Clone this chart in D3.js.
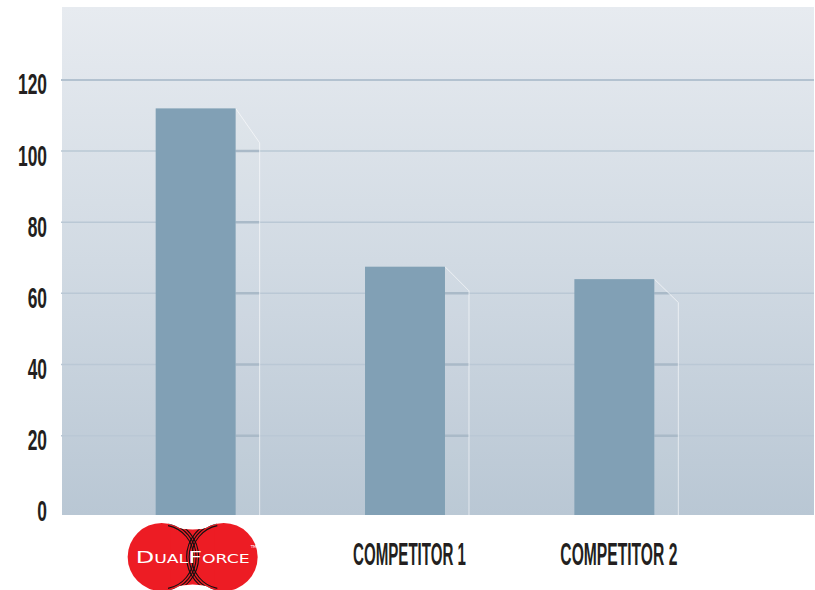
<!DOCTYPE html>
<html>
<head>
<meta charset="utf-8">
<script src="https://cdn.jsdelivr.net/npm/d3@7"></script>
<style>
  html, body { margin: 0; padding: 0; background: #ffffff; }
  svg { display: block; }
</style>
</head>
<body>
<svg id="chart" width="815" height="590"></svg>
<script>
// ---- data ----
const categories = ["DualForce", "COMPETITOR 1", "COMPETITOR 2"];
const values = [112, 67.5, 64];
const yTicks = [0, 20, 40, 60, 80, 100, 120];

// ---- layout ----
const plotLeft = 62, plotRight = 814, plotTop = 7, plotBottom = 515;
const svg = d3.select("#chart");

const y = d3.scaleLinear().domain([-2.3, 140.5]).range([plotBottom, plotTop]);
const x = d3.scaleBand().domain(categories).range([51, 759]).paddingInner(0.618).paddingOuter(0.5);

const defs = svg.append("defs");
const grad = defs.append("linearGradient").attr("id", "bg").attr("x1", 0).attr("y1", 0).attr("x2", 0).attr("y2", 1);
grad.append("stop").attr("offset", "0%").attr("stop-color", "#e7ebf0");
grad.append("stop").attr("offset", "50%").attr("stop-color", "#d1dae3");
grad.append("stop").attr("offset", "100%").attr("stop-color", "#b9c7d4");

// background
svg.append("rect")
  .attr("x", plotLeft).attr("y", plotTop)
  .attr("width", plotRight - plotLeft).attr("height", plotBottom - plotTop)
  .attr("fill", "url(#bg)");

// gridlines
const grid = svg.append("g");
grid.selectAll("line").data(yTicks.filter(d => d > 0)).join("line")
  .attr("x1", plotLeft - 1).attr("x2", plotRight)
  .attr("y1", d => y(d)).attr("y2", d => y(d))
  .attr("stroke", d => d === 120 ? "#b3c2d0" : "#bac8d5")
  .attr("stroke-width", d => d === 120 ? 2 : 1.5);

// shadow polygons beside bars
const sw = 24;
function shadowPts(d, i) {
  const xr = x(d) + x.bandwidth();
  const top = y(values[i]);
  const drop = 8 + (plotBottom - top) * 0.065;
  return [[xr, top], [xr + sw, top + drop], [xr + sw, plotBottom], [xr, plotBottom]];
}
categories.forEach((c, i) => {
  defs.append("clipPath").attr("id", "sh" + i)
    .append("polygon").attr("points", shadowPts(c, i).map(p => p.join(",")).join(" "));
});
const shadows = svg.append("g");
categories.forEach((c, i) => {
  const g = shadows.append("g");
  g.append("polygon")
    .attr("points", shadowPts(c, i).map(p => p.join(",")).join(" "))
    .attr("fill", "#ffffff").attr("fill-opacity", 0.04);
  g.append("g").attr("clip-path", "url(#sh" + i + ")")
    .selectAll("line").data(yTicks.filter(d => d > 0)).join("line")
    .attr("x1", plotLeft).attr("x2", plotRight)
    .attr("y1", d => y(d)).attr("y2", d => y(d))
    .attr("stroke", "#aabac8").attr("stroke-width", 2.5);
  const p = shadowPts(c, i);
  g.append("polyline")
    .attr("points", [p[0], p[1], p[2]].map(q => q.join(",")).join(" "))
    .attr("fill", "none").attr("stroke", "#ffffff").attr("stroke-opacity", 0.6).attr("stroke-width", 1);
});

// bars
svg.append("g").selectAll("rect").data(categories).join("rect")
  .attr("x", d => x(d))
  .attr("y", (d, i) => y(values[i]))
  .attr("width", x.bandwidth())
  .attr("height", (d, i) => plotBottom - y(values[i]))
  .attr("fill", "#81a0b5");

// y axis
const sx = 0.6;
const yAxis = svg.append("g").attr("transform", `translate(${plotLeft},0)`)
  .call(d3.axisLeft(y).tickValues(yTicks).tickSize(0).tickFormat(d3.format("d")));
yAxis.select(".domain").remove();
yAxis.selectAll("text")
  .attr("x", -15 / sx)
  .attr("dy", "0.48em")
  .attr("transform", `scale(${sx},1)`)
  .attr("fill", "#231f20")
  .style("font-family", "'Liberation Sans', sans-serif")
  .style("font-size", "29px")
  .style("font-weight", "bold");

// x axis labels (text categories)
const xAxis = svg.append("g").attr("transform", `translate(0,${plotBottom})`)
  .call(d3.axisBottom(x).tickSize(0).tickFormat(d => d === "DualForce" ? "" : d));
xAxis.select(".domain").remove();
xAxis.selectAll(".tick").each(function(d) {
  const t = d3.select(this).select("text");
  if (d === "DualForce") { t.remove(); return; }
  t.attr("y", 49.5).attr("dy", 0).attr("x", 4.5)
    .attr("fill", "#231f20")
    .attr("textLength", d === "COMPETITOR 1" ? 113 : 117)
    .attr("lengthAdjust", "spacingAndGlyphs")
    .style("font-family", "'Liberation Sans', sans-serif")
    .style("font-size", "30.5px")
    .style("font-weight", "bold");
});

// DualForce logo
const logoCx = x("DualForce") + x.bandwidth() / 2 - 3;
const logo = svg.append("g").attr("transform", `translate(${logoCx},557)`);
const red = "#ed1c24";
const shapeClip = defs.append("clipPath").attr("id", "logoclip");
shapeClip.append("circle").attr("cx", -31).attr("cy", 0).attr("r", 34);
shapeClip.append("circle").attr("cx", 31).attr("cy", 0).attr("r", 34);
shapeClip.append("path").attr("d", "M -22,-31 Q 0,-24 22,-31 L 22,31 Q 0,24 -22,31 Z");
logo.append("circle").attr("cx", -31).attr("cy", 0).attr("r", 34).attr("fill", red);
logo.append("circle").attr("cx", 31).attr("cy", 0).attr("r", 34).attr("fill", red);
logo.append("path").attr("d", "M -22,-31 Q 0,-24 22,-31 L 22,31 Q 0,24 -22,31 Z").attr("fill", red);
const arcs = logo.append("g").attr("clip-path", "url(#logoclip)");
[32, 34.5, 37].forEach(r => {
  arcs.append("path")
    .attr("d", d3.arc()({ innerRadius: r, outerRadius: r, startAngle: 0.2, endAngle: Math.PI - 0.2 }))
    .attr("transform", "translate(-31,0)")
    .attr("fill", "none").attr("stroke", "#111").attr("stroke-width", 1.1);
  arcs.append("path")
    .attr("d", d3.arc()({ innerRadius: r, outerRadius: r, startAngle: Math.PI + 0.2, endAngle: 2 * Math.PI - 0.2 }))
    .attr("transform", "translate(31,0)")
    .attr("fill", "none").attr("stroke", "#111").attr("stroke-width", 1.1);
});
const lt = logo.append("text").attr("x", -57).attr("y", 6)
  .attr("fill", "#ffffff")
  .attr("textLength", 114).attr("lengthAdjust", "spacingAndGlyphs")
  .style("font-family", "'DejaVu Sans', sans-serif");
lt.append("tspan").style("font-size", "16px").text("D");
lt.append("tspan").style("font-size", "11.5px").text("UAL");
lt.append("tspan").style("font-size", "16px").text("F");
lt.append("tspan").style("font-size", "11.5px").text("ORCE");
logo.append("text").attr("x", 58).attr("y", -9).attr("fill", "#ffffff")
  .style("font-family", "'DejaVu Sans', sans-serif").style("font-size", "4px").text("TM");
</script>
</body>
</html>
